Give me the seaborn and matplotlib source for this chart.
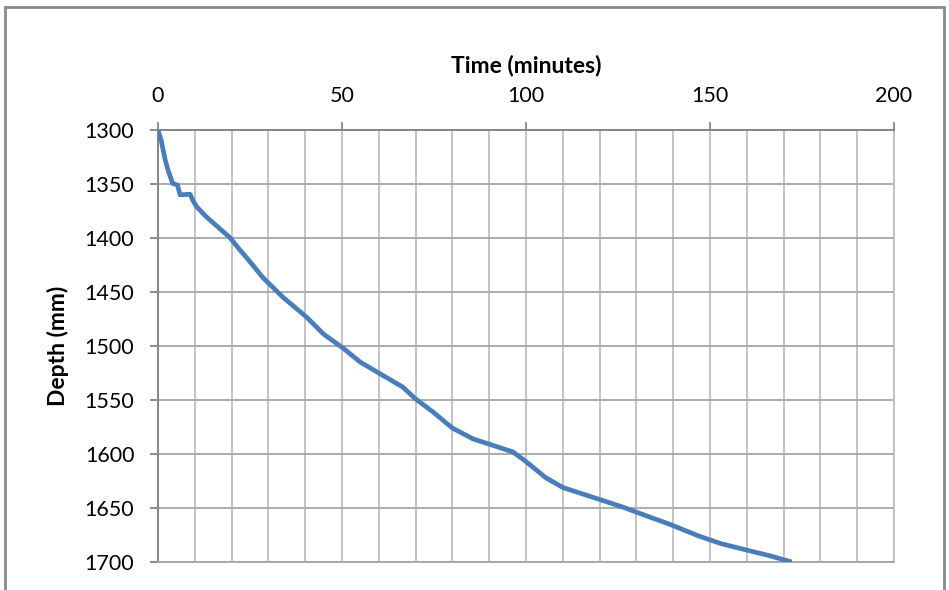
import matplotlib
matplotlib.use("Agg")
import matplotlib.pyplot as plt
from matplotlib.ticker import MultipleLocator
from matplotlib.lines import Line2D
import seaborn as sns
import pandas as pd

# Data
time_min = [0, 0.9, 1.9, 2.8, 4.0, 5.3, 6.0, 8.7, 9.6, 10.5, 13, 16, 19.5, 22, 25,
            28.6, 34, 40.3, 45, 50.3, 55, 61, 66.5, 70, 74.7, 80, 85.6, 91, 96.4,
            100, 105.4, 110, 115.4, 120.8, 126.2, 132.5, 139, 147, 153, 160, 166, 172.2]
depth_mm = [1300, 1310, 1327, 1338, 1349.5, 1351, 1360, 1359.5, 1366, 1371, 1380, 1389,
            1399.5, 1410, 1422, 1437, 1455, 1473, 1489, 1502, 1515, 1527, 1538, 1549,
            1561, 1576, 1586, 1592, 1598, 1607, 1622, 1631, 1637, 1643, 1649, 1657,
            1665, 1676, 1683, 1689, 1694, 1700]
x_ticks = [0, 50, 100, 150, 200]
y_ticks = [1300, 1350, 1400, 1450, 1500, 1550, 1600, 1650, 1700]
x_label = "Time (minutes)"
y_label = "Depth (mm)"

df = pd.DataFrame({"Time": time_min, "Depth": depth_mm})

sns.set_theme(style="white")
plt.rcParams["font.family"] = ["Lato", "DejaVu Sans"]

W, H = 949, 590
fig = plt.figure(figsize=(W / 100, H / 100), dpi=100)
ax = fig.add_axes([158 / W, (H - 562) / H, (894 - 158) / W, (562 - 130) / H])

sns.lineplot(data=df, x="Time", y="Depth", ax=ax, sort=False, estimator=None,
             color="#4A7EBB", linewidth=3.4, solid_capstyle="butt",
             solid_joinstyle="round", zorder=5)

ax.set_xlim(0, 200)
ax.set_ylim(1700, 1300)
ax.xaxis.tick_top()
ax.xaxis.set_label_position("top")
ax.set_xticks(x_ticks)
ax.set_yticks(y_ticks)
ax.xaxis.set_minor_locator(MultipleLocator(10))

ax.grid(which="both", axis="x", color="#BFBFBF", linewidth=1.3)
ax.grid(which="major", axis="y", color="#A6A6A6", linewidth=1.3)
ax.set_axisbelow(True)

for s in ["top", "left"]:
    ax.spines[s].set_color("#868686")
    ax.spines[s].set_linewidth(1.4)
ax.spines["right"].set_color("#BFBFBF")
ax.spines["right"].set_linewidth(1.3)
ax.spines["bottom"].set_color("#A6A6A6")
ax.spines["bottom"].set_linewidth(1.3)

ax.tick_params(axis="x", which="major", top=True, bottom=False, length=6, width=1.3,
               color="#868686", pad=11, labelsize=15.5, labelcolor="#000000")
ax.tick_params(axis="y", which="major", left=True, length=6, width=1.3,
               color="#868686", pad=11, labelsize=15.5, labelcolor="#000000")
ax.tick_params(which="minor", length=0)

ax.set_xlabel(x_label, fontsize=16.5, fontweight="bold", labelpad=10, color="#000000")
ax.set_ylabel(y_label, fontsize=16.5, fontweight="bold", labelpad=11, color="#000000")

# outer chart-area border
border_kw = dict(color="#8A8A8A", linewidth=2, transform=None)
fig.add_artist(Line2D([5, 5], [H - 7, -5], **border_kw))
fig.add_artist(Line2D([5, 944], [H - 7, H - 7], **border_kw))
fig.add_artist(Line2D([944, 944], [H - 7, -5], **border_kw))

fig.savefig("out.png", dpi=100)
